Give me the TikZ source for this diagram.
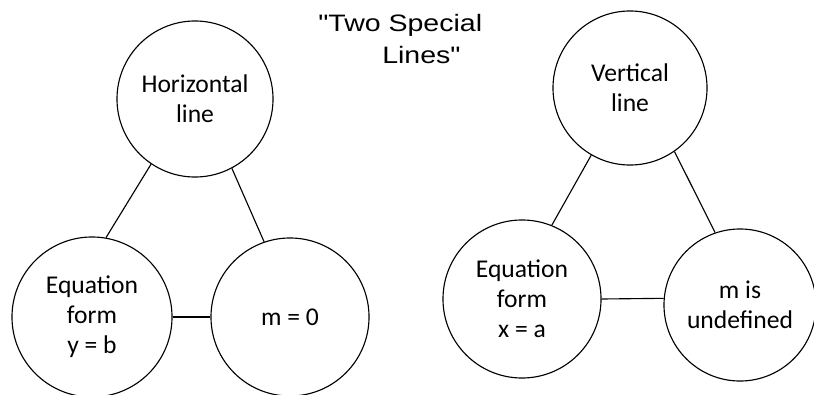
\documentclass[tikz,border=0pt]{standalone}
\usepackage{fontspec}
\newfontfamily\bubblefont{Carlito}
\newfontfamily\titlefont[FakeStretch=1.2]{Liberation Sans}

\begin{document}
\begin{tikzpicture}[x=0.025cm, y=-0.025cm,
  bubble/.style={circle, draw=black, line width=0.8pt, inner sep=0pt, align=center,
    font=\bubblefont\fontsize{18.2}{21.3}\selectfont},
  link/.style={draw=black, line width=0.8pt},
  heading/.style={align=left, inner sep=0pt, font=\titlefont\fontsize{16.9}{22.8}\selectfont},
]
\useasboundingbox (0,0) rectangle (814,394);
% ---------- title ----------
\node[heading, anchor=base west] (ttl) at (318,32) {"Two Special};
\node[heading, anchor=base west] (ttlb) at (382,64) {Lines"};
% ---------- horizontal line ----------
\node[bubble, minimum size=3.9cm]  (hor)   at (195,99)  {Horizontal\\line};
\node[bubble, minimum size=4.0cm]  (eqy)   at (92,317)  {Equation\\form\\y = b};
\node[bubble, minimum size=3.95cm] (mzero) at (290,317) {m = 0};
\draw[link] (hor.236) -- (eqy.80);
\draw[link] (hor.298) -- (mzero.109);
\draw[link] (eqy.east) -- (mzero.west);
% ---------- vertical line ----------
\node[bubble, minimum size=3.85cm] (ver)    at (630,88)  {Vertical\\line};
\node[bubble, minimum size=3.95cm] (eqx)    at (522,299) {Equation\\form\\x = a};
\node[bubble, minimum size=3.8cm]  (mundef) at (740,305) {m is\\undefined};
\draw[link] (ver.240) -- (eqx.68);
\draw[link] (ver.305) -- (mundef.109);
\draw[link] (eqx.east) -- (mundef.175);
\end{tikzpicture}
\end{document}
